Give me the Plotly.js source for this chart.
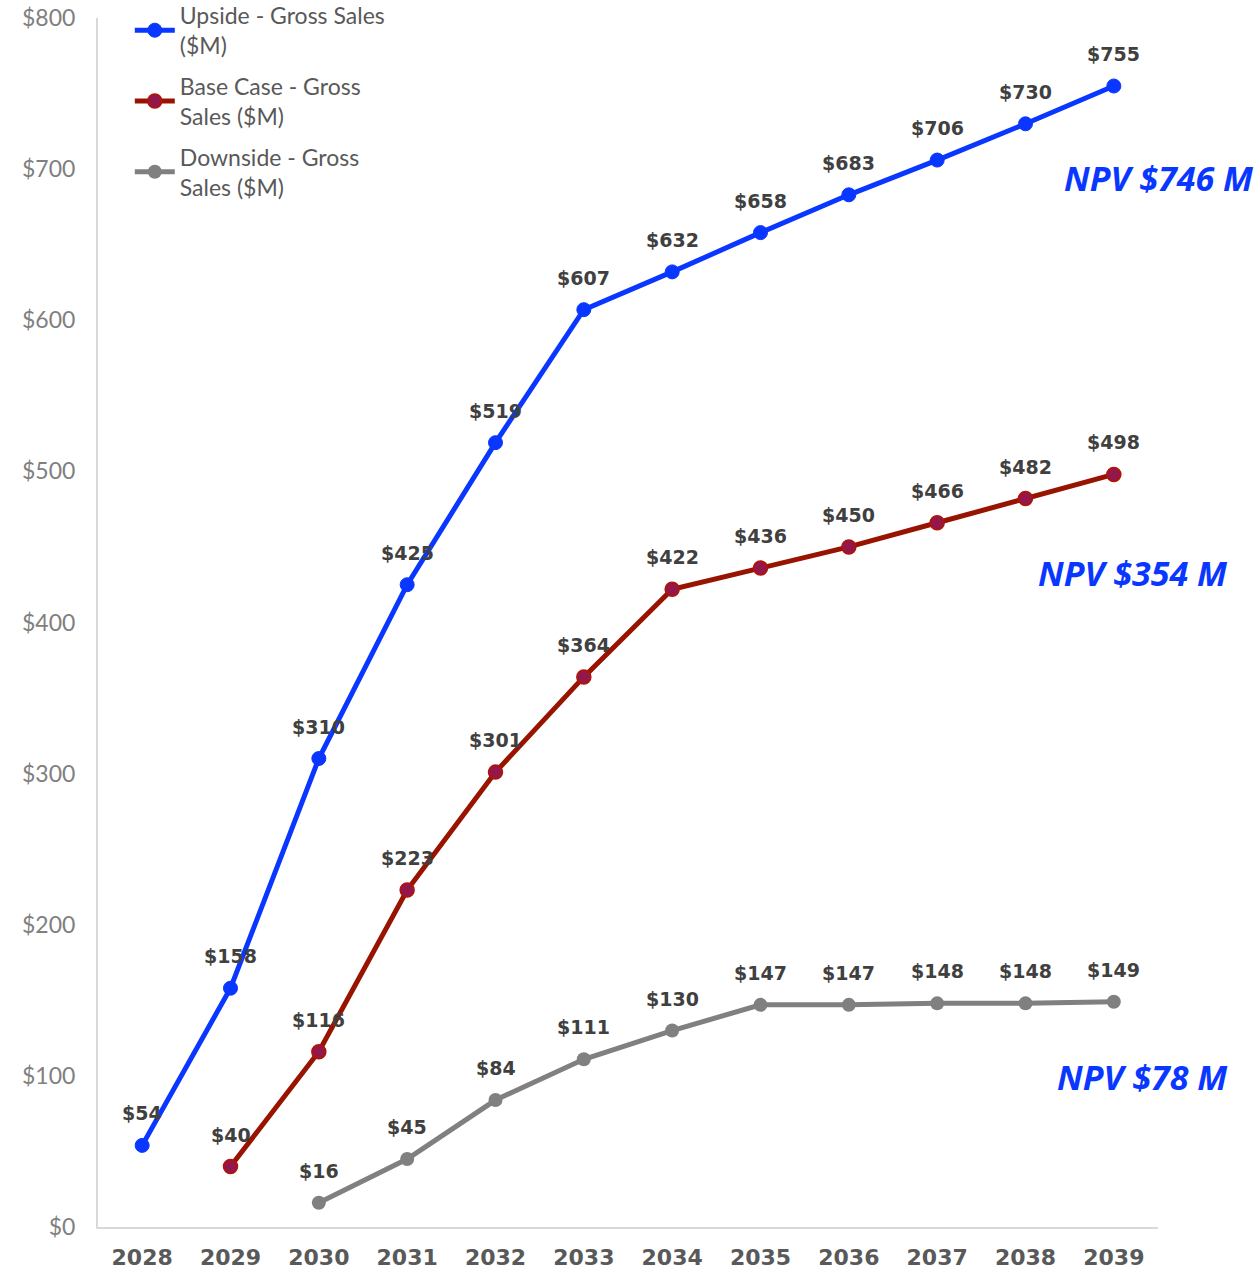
<!DOCTYPE html>
<html>
<head>
<meta charset="utf-8">
<script src="https://cdn.plot.ly/plotly-3.0.1.min.js"></script>
<style>body{margin:0;padding:0;background:#fff;} #chart{width:1257px;height:1271px;}</style>
</head>
<body>
<div id="chart"></div>
<script>
const years = ["2028","2029","2030","2031","2032","2033","2034","2035","2036","2037","2038","2039"];
const upside = [54,158,310,425,519,607,632,658,683,706,730,755];
const baseCase = [null,40,116,223,301,364,422,436,450,466,482,498];
const downside = [null,null,16,45,84,111,130,147,147,148,148,149];
const yTicks = [0,100,200,300,400,500,600,700,800];
const npvLabels = ["NPV $746 M","NPV $354 M","NPV $78 M"];
const npvY = [694,433,99];
const npvX = [1.092,1.068,1.068];

const lblFont = {family:"'DejaVu Sans', sans-serif", size:19, color:"#404040", weight:"bold"};

const traces = [
 {x:years,y:upside,name:"Upside - Gross Sales<br>($M)",type:"scatter",mode:"lines+markers",legendgroup:"a",
  line:{color:"#0A37FF",width:5},marker:{color:"#0A37FF",size:14,line:{color:"#0A37FF",width:1}},
  cliponaxis:false,hoverinfo:"skip"},
 {x:years,y:baseCase,name:"Base Case - Gross<br>Sales ($M)",type:"scatter",mode:"lines+markers",legendgroup:"b",
  line:{color:"#981400",width:5},marker:{color:"#95174A",size:14,line:{color:"#B01500",width:1.5}},
  cliponaxis:false,hoverinfo:"skip"},
 {x:years,y:downside,name:"Downside - Gross<br>Sales ($M)",type:"scatter",mode:"lines+markers",legendgroup:"c",
  line:{color:"#808080",width:5},marker:{color:"#808080",size:14},
  cliponaxis:false,hoverinfo:"skip"}
];

const annotations = [];
[upside,baseCase,downside].forEach(arr=>{
  arr.forEach((v,i)=>{
    if(v===null) return;
    annotations.push({text:"$"+v,x:i,y:v,xref:"x",yref:"y",showarrow:false,
      yshift:32,xanchor:"center",yanchor:"middle",font:lblFont});
  });
});
npvLabels.forEach((t,i)=>annotations.push({
  text:t, xref:"paper", x:npvX[i], xanchor:"right", yref:"y", y:npvY[i], yanchor:"middle",
  showarrow:false, font:{family:"'Open Sans', sans-serif", size:34, color:"#0A37FF", weight:"bold", style:"italic"}
}));

const layout = {
  width:1257,height:1271,
  margin:{l:98,r:99,t:18,b:44,autoexpand:false},
  paper_bgcolor:"#fff",plot_bgcolor:"#fff",
  showlegend:true,
  legend:{x:0.03,y:1.02,xanchor:"left",yanchor:"top",bgcolor:"rgba(0,0,0,0)",
    font:{family:"Lato, 'Open Sans', sans-serif",size:23,color:"#595959"},tracegroupgap:8,itemwidth:40},
  xaxis:{type:"category",range:[-0.5,11.5],showgrid:false,zeroline:false,showline:true,linecolor:"#D9D9D9",linewidth:2,
    automargin:false,ticks:"",ticklabelstandoff:10,
    tickfont:{family:"'DejaVu Sans', sans-serif",size:22,color:"#595959",weight:"bold"},fixedrange:true},
  yaxis:{range:[0,800],tickvals:yTicks,ticktext:yTicks.map(v=>"$"+v),showgrid:false,zeroline:false,showline:true,
    automargin:false,linecolor:"#D9D9D9",linewidth:2,ticks:"",ticklabelstandoff:16,
    tickfont:{family:"Lato, 'Open Sans', sans-serif",size:23,color:"#808080"},fixedrange:true},
  annotations:annotations
};
Plotly.newPlot("chart",traces,layout,{displayModeBar:false,staticPlot:true});
</script>
</body>
</html>
